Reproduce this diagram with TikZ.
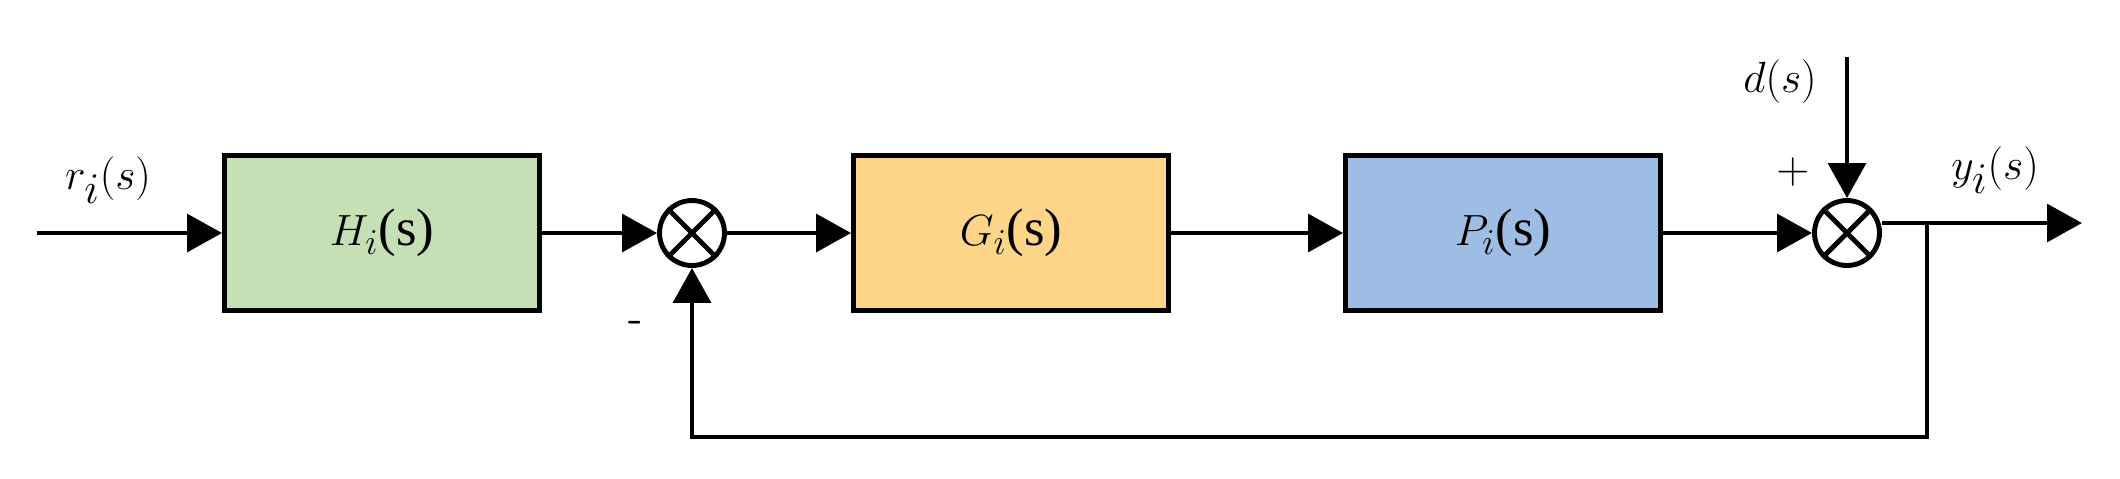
\documentclass[tikz,border=0pt]{standalone}
\usepackage{fontspec}
\setmainfont{Liberation Serif}
\usetikzlibrary{arrows.meta}
\begin{document}
\begin{tikzpicture}[x=0.02cm,y=-0.02cm,
  lw/.style={line width=2.8pt},
  blk/.style={draw,line width=2.8pt,minimum width=316\pgflinewidth,inner sep=0,font=\fontsize{30}{34}\selectfont},
  sumn/.style={draw,circle,line width=2.8pt,minimum size=64\pgflinewidth*0+1.8cm,inner sep=0},
  arr/.style={line width=2.8pt,-{Triangle[length=0.7cm,width=0.75cm]}},
  lab/.style={font=\fontsize{38}{42}\selectfont},
  sgn/.style={font=\sffamily\fontsize{26}{30}\selectfont}]
\useasboundingbox (0,0) rectangle (2120,478);
\node[blk,fill={rgb,255:red,197;green,224;blue,180},minimum width=6.3cm,minimum height=3.1cm] (H) at (382,233) {$H_i$(s)};
\node[blk,fill={rgb,255:red,252;green,213;blue,136},minimum width=6.3cm,minimum height=3.1cm] (G) at (1011,233) {$G_i$(s)};
\node[blk,fill={rgb,255:red,158;green,189;blue,228},minimum width=6.3cm,minimum height=3.1cm] (P) at (1503,233) {$P_i$(s)};
\node[draw,circle,line width=2.8pt,minimum size=1.3cm,inner sep=0] (S1) at (692,233) {};
\node[draw,circle,line width=2.8pt,minimum size=1.3cm,inner sep=0] (S2) at (1847,233) {};
\foreach \s in {S1,S2}{
  \draw[lw] (\s.45) -- (\s.225) (\s.135) -- (\s.315);}
\coordinate (in) at (37,233);
\coordinate (dtop) at (1847,57);
\coordinate (out) at (2082,223);
\coordinate (br) at (1927,223);
\coordinate (fb) at (1927,437);
\draw[arr] (in) -- (H.west);
\draw[arr] (H.east) -- (S1.west);
\draw[arr] (S1.east) -- (G.west);
\draw[arr] (G.east) -- (P.west);
\draw[arr] (P.east) -- (S2.west);
\draw[arr] (dtop) -- (S2.north);
\draw[arr] (S2.east |- out) -- (out);
\draw[arr,line join=miter] (br) -- (fb) -| (S1.south);
\node[lab] (r) at (108,180) {$r_i(s)$};
\node[lab] (d) at (1780,82) {$d(s)$};
\node[lab] (y) at (1995,170) {$y_i(s)$};
\node[sgn] (plus) at (1793,172) {+};
\node[sgn] (minus) at (636,327) {-};
\end{tikzpicture}
\end{document}
